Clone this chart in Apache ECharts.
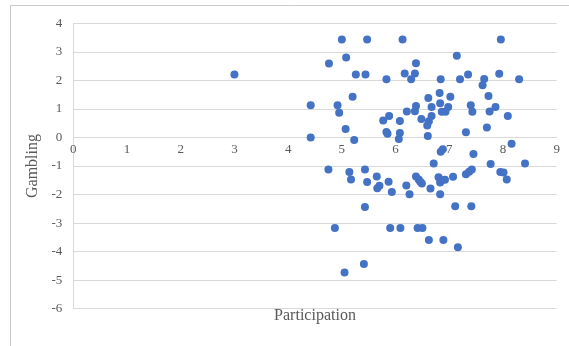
<!DOCTYPE html>
<html>
<head>
<meta charset="utf-8">
<script src="https://cdn.jsdelivr.net/npm/echarts@6/dist/echarts.min.js"></script>
<style>
  html, body { margin: 0; padding: 0; background: #ffffff; }
  #chart { width: 569px; height: 346px; }
</style>
</head>
<body>
<div id="chart"></div>
<script>
// Participation scores (x) and gambling scores (y), one entry per respondent
const participation = [
  3.00, 5.00, 5.47, 6.13, 7.96, 7.14, 4.76, 5.08, 6.38, 5.26,
  5.44, 6.17, 6.36, 6.29, 5.83, 6.84, 7.20, 7.35, 7.65, 7.62,
  7.93, 8.30, 7.73, 5.20, 6.82, 6.61, 7.02, 4.42, 4.92, 4.95,
  6.38, 6.36, 6.21, 6.67, 6.83, 6.98, 6.86, 6.93, 7.40, 7.43,
  7.75, 7.86, 8.09, 5.77, 5.88, 6.08, 6.48, 6.67, 6.62, 6.59,
  5.07, 5.83, 5.85, 6.08, 6.06, 6.60, 7.70, 7.31, 4.42, 5.23,
  8.16, 6.88, 6.84, 7.45,
  6.71, 7.77, 8.41, 4.75, 5.14, 5.17, 5.43, 5.65, 5.47, 5.66,
  5.70, 5.87, 5.93, 6.20, 6.26, 6.38, 6.43, 6.46, 6.49, 6.65,
  6.80, 6.83, 6.86, 6.92, 7.07, 6.83, 7.31, 7.37, 7.42, 7.95,
  8.01, 8.07, 7.11, 7.41, 5.43, 4.87, 5.90, 6.09, 6.41, 6.50,
  6.62, 6.89, 7.16, 5.41, 5.05
];
const gambling = [
  2.21, 3.43, 3.43, 3.43, 3.43, 2.86, 2.59, 2.80, 2.60, 2.21,
  2.21, 2.24, 2.24, 2.04, 2.04, 2.04, 2.04, 2.21, 2.05, 1.83,
  2.23, 2.04, 1.45, 1.43, 1.56, 1.38, 1.43, 1.13, 1.13, 0.87,
  1.10, 0.92, 0.91, 1.07, 1.20, 1.07, 0.90, 0.90, 1.13, 0.90,
  0.91, 1.07, 0.75, 0.59, 0.75, 0.58, 0.65, 0.75, 0.57, 0.42,
  0.30, 0.19, 0.13, 0.16, -0.05, 0.05, 0.35, 0.18, 0.00, -0.09,
  -0.22, -0.41, -0.50, -0.58,
  -0.91, -0.93, -0.91, -1.12, -1.21, -1.47, -1.12, -1.37, -1.56, -1.78,
  -1.69, -1.55, -1.91, -1.68, -1.99, -1.37, -1.47, -1.55, -1.61, -1.79,
  -1.39, -1.58, -1.50, -1.48, -1.38, -1.99, -1.29, -1.20, -1.12, -1.21,
  -1.23, -1.47, -2.41, -2.41, -2.44, -3.17, -3.17, -3.17, -3.17, -3.17,
  -3.59, -3.59, -3.85, -4.43, -4.73
];

const xTicks = [0, 1, 2, 3, 4, 5, 6, 7, 8, 9];
const yTicks = [-6, -5, -4, -3, -2, -1, 0, 1, 2, 3, 4];

const points = participation.map((p, i) => [p, gambling[i]]);

const serif = '"Liberation Serif", "DejaVu Serif", serif';
const gridColor = '#d9d9d9';
const labelColor = '#595959';

// Plot area box
const grid = { left: 73.3, right: 12.3, top: 23.3, bottom: 37.3 };
const plotHeight = 346 - grid.top - grid.bottom;
const yMin = yTicks[0];
const yMax = yTicks[yTicks.length - 1];
// lift the x axis from the bottom edge up to where y = 0 crosses the plot
const zeroLift = plotHeight * (0 - yMin) / (yMax - yMin);

const chart = echarts.init(document.getElementById('chart'), null, { renderer: 'canvas' });

chart.setOption({
  animation: false,
  backgroundColor: '#ffffff',
  title: {
    text: 'Participation',
    left: 315,
    textAlign: 'center',
    top: 308,
    padding: 0,
    textStyle: { color: labelColor, fontFamily: serif, fontSize: 16, fontWeight: 'normal' }
  },
  graphic: [{
    type: 'rect',
    shape: { x: 10.5, y: 5.5, width: 600, height: 400 },
    style: { fill: 'none', stroke: '#c9c9c9', lineWidth: 1 },
    silent: true,
    z: -1
  }],
  grid: grid,
  xAxis: {
    type: 'value',
    position: 'bottom',
    offset: -zeroLift,
    min: xTicks[0],
    max: xTicks[xTicks.length - 1],
    interval: 1,
    axisLine: { show: true, onZero: false, lineStyle: { color: gridColor } },
    axisTick: { show: false },
    splitLine: { show: false },
    axisLabel: { margin: 6, color: labelColor, fontFamily: serif, fontSize: 13 }
  },
  yAxis: {
    type: 'value',
    min: yMin,
    max: yMax,
    interval: 1,
    axisLine: { show: true, onZero: false, lineStyle: { color: gridColor } },
    axisTick: { show: false },
    splitLine: { show: true, lineStyle: { color: gridColor } },
    axisLabel: { margin: 11, color: labelColor, fontFamily: serif, fontSize: 13 },
    name: 'Gambling',
    nameLocation: 'middle',
    nameGap: 25,
    nameRotate: 90,
    nameTextStyle: { color: labelColor, fontFamily: serif, fontSize: 16 }
  },
  series: [{
    type: 'scatter',
    data: points,
    symbol: 'circle',
    symbolSize: 8,
    itemStyle: { color: '#4472C4', opacity: 1 }
  }]
});
</script>
</body>
</html>
